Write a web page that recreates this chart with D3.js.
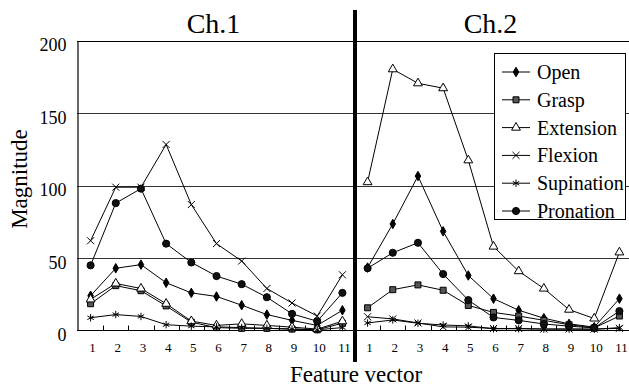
<!DOCTYPE html>
<html><head><meta charset="utf-8">
<script src="https://cdn.jsdelivr.net/npm/d3@7/dist/d3.min.js"></script>
<style>
html,body{margin:0;padding:0;background:#fff;}
svg{display:block;}
svg text{font-family:"Liberation Serif","DejaVu Serif",serif;}
</style></head>
<body>
<svg id="chart" width="629" height="387"></svg>
<script>
const panels = ["Ch.1", "Ch.2"];
const categories = ["1","2","3","4","5","6","7","8","9","10","11"];
const yTicks = [0, 50, 100, 150, 200];
const seriesNames = ["Open", "Grasp", "Extension", "Flexion", "Supination", "Pronation"];

// Ch.1 values
const ch1Open       = [24, 43, 45.5, 33, 26, 23.5, 17.5, 11, 7, 3.5, 14];
const ch1Grasp      = [18.5, 31, 27.5, 17, 5.7, 2, 1.5, 1.5, 1, 0.5, 5];
const ch1Extension  = [21.5, 32.5, 29, 18.5, 6.5, 3.5, 4.6, 3.5, 2.3, 1, 6.4];
const ch1Flexion    = [62, 99, 99, 128.5, 87, 60, 48, 29, 19, 10, 38.5];
const ch1Supination = [8.8, 11, 9.7, 4, 3, 2.5, 2, 1.5, 1, 0.5, 2];
const ch1Pronation  = [45, 88, 98, 60, 47, 37.6, 32, 23, 11.5, 6.4, 26];
// Ch.2 values
const ch2Open       = [43.5, 73.6, 106.7, 68.5, 38, 22, 14, 8.5, 4.6, 2.3, 22];
const ch2Grasp      = [15.7, 28.2, 31.5, 27.8, 17.3, 12.5, 10, 7, 4, 1.8, 10];
const ch2Extension  = [102.5, 180.5, 170.8, 167.4, 117.6, 58, 41, 29, 14.4, 8.3, 54];
const ch2Flexion    = [9.5, 8, 5.2, 2.5, 2.3, 1.4, 1.4, 1, 1, 1, 1.5];
const ch2Supination = [5.2, 7.3, 5, 3.8, 3.2, 1.2, 1.2, 1, 1, 0.8, 2];
const ch2Pronation  = [43, 53.7, 60.6, 39, 21, 9, 7, 4.5, 3, 1.8, 13.4];

const dataByPanel = {
  "Ch.1": [ch1Open, ch1Grasp, ch1Extension, ch1Flexion, ch1Supination, ch1Pronation],
  "Ch.2": [ch2Open, ch2Grasp, ch2Extension, ch2Flexion, ch2Supination, ch2Pronation]
};

const FONT = "'Liberation Serif', 'DejaVu Serif', serif";
const svg = d3.select("#chart").attr("font-family", FONT);
const mLeft = 78, mRight = 632, mTop = 41, mBottom = 330.5;

const xPanel = d3.scaleBand().domain(panels).range([mLeft, mRight]).padding(0);
const xCat = d3.scaleBand().domain(categories).range([0, xPanel.bandwidth()]).padding(0);
const y = d3.scaleLinear().domain([0, 200]).range([mBottom, mTop]);
const cx = (p, c) => xPanel(p) + xCat(c) + xCat.bandwidth() / 2;

// grid lines
svg.append("g").selectAll("line").data(yTicks.filter(t => t > 0)).join("line")
  .attr("x1", mLeft - 1).attr("x2", 629)
  .attr("y1", d => Math.round(y(d)) + 0.5).attr("y2", d => Math.round(y(d)) + 0.5)
  .attr("stroke", d => d === 200 ? "#000" : "#333").attr("stroke-width", 1);

// y axis
const yAxis = d3.axisLeft(y).tickValues(yTicks).tickSize(0).tickPadding(11);
const ya = svg.append("g").attr("transform", `translate(${mLeft - 0.5},0)`).call(yAxis)
  .attr("font-family", FONT);
ya.select(".domain").attr("stroke", "#000").attr("stroke-width", 1.2);
ya.selectAll("text").attr("font-size", 18).attr("font-family", FONT)
  .attr("fill", "#000").attr("dy", "0.55em");

// x axis line
svg.append("line").attr("x1", mLeft - 1).attr("x2", 629)
  .attr("y1", mBottom).attr("y2", mBottom).attr("stroke", "#000").attr("stroke-width", 1.2);

// x tick marks (band boundaries) and labels
panels.forEach(p => {
  const g = svg.append("g");
  g.selectAll("line").data(categories.slice(1)).join("line")
    .attr("x1", c => Math.round(xPanel(p) + xCat(c)) + 0.5)
    .attr("x2", c => Math.round(xPanel(p) + xCat(c)) + 0.5)
    .attr("y1", mBottom).attr("y2", mBottom - 5).attr("stroke", "#000");
  g.selectAll("text").data(categories).join("text")
    .attr("x", c => cx(p, c) + 2).attr("y", 352)
    .attr("text-anchor", "middle").attr("font-size", 13).attr("font-family", FONT)
    .attr("fill", "#000").text(c => c);
  svg.append("text").attr("x", xPanel(p) + xPanel.bandwidth() / 2 - 3).attr("y", 33)
    .attr("text-anchor", "middle").attr("font-size", 28).attr("font-family", FONT).text(p);
});

// series lines and markers
const symbolFor = {
  "Open": d3.symbolDiamond, "Grasp": d3.symbolSquare, "Extension": d3.symbolTriangle,
  "Flexion": d3.symbolTimes, "Supination": d3.symbolAsterisk, "Pronation": d3.symbolCircle
};
const symSize = { "Open": 26, "Grasp": 36, "Extension": 34, "Flexion": 34, "Supination": 38, "Pronation": 40 };
const fillFor = { "Open": "#000", "Grasp": "#555", "Extension": "#fff", "Flexion": "none", "Supination": "none", "Pronation": "#111" };

function drawMarker(sel, name) {
  sel.attr("d", d3.symbol().type(symbolFor[name]).size(symSize[name])())
    .attr("fill", fillFor[name]).attr("stroke", "#000").attr("stroke-width", 1);
}

panels.forEach(p => {
  const arrs = dataByPanel[p];
  seriesNames.forEach((name, si) => {
    const vals = arrs[si];
    const line = d3.line().x((v, i) => cx(p, categories[i])).y(v => y(v));
    svg.append("path").attr("d", line(vals)).attr("fill", "none")
      .attr("stroke", "#000").attr("stroke-width", 1);
  });
  seriesNames.forEach((name, si) => {
    const vals = arrs[si];
    svg.append("g").selectAll("path").data(vals).join("path")
      .attr("transform", (v, i) => `translate(${cx(p, categories[i])},${y(v)})`)
      .call(s => drawMarker(s, name));
  });
});

// divider between panels
svg.append("line").attr("x1", xPanel("Ch.2")).attr("x2", xPanel("Ch.2"))
  .attr("y1", 10).attr("y2", 362).attr("stroke", "#000").attr("stroke-width", 4);

// axis titles
svg.append("text").attr("x", 356).attr("y", 382).attr("text-anchor", "middle")
  .attr("font-size", 23).attr("font-family", FONT).text("Feature vector");
svg.append("text").attr("transform", "translate(27,179) rotate(-90)")
  .attr("text-anchor", "middle").attr("font-size", 23).attr("font-family", FONT).text("Magnitude");

// legend
const lg = svg.append("g");
lg.append("rect").attr("x", 494.5).attr("y", 53.5).attr("width", 131).attr("height", 166)
  .attr("fill", "#fff").attr("stroke", "#000").attr("stroke-width", 1);
seriesNames.forEach((name, i) => {
  const yy = 72 + i * 27.8;
  lg.append("line").attr("x1", 502).attr("x2", 530).attr("y1", yy).attr("y2", yy)
    .attr("stroke", "#000");
  lg.append("path").attr("transform", `translate(516,${yy})`).call(s => drawMarker(s, name));
  lg.append("text").attr("x", 537).attr("y", yy + 7).attr("font-size", 20)
    .attr("font-family", FONT).text(name);
});
</script>
</body></html>
